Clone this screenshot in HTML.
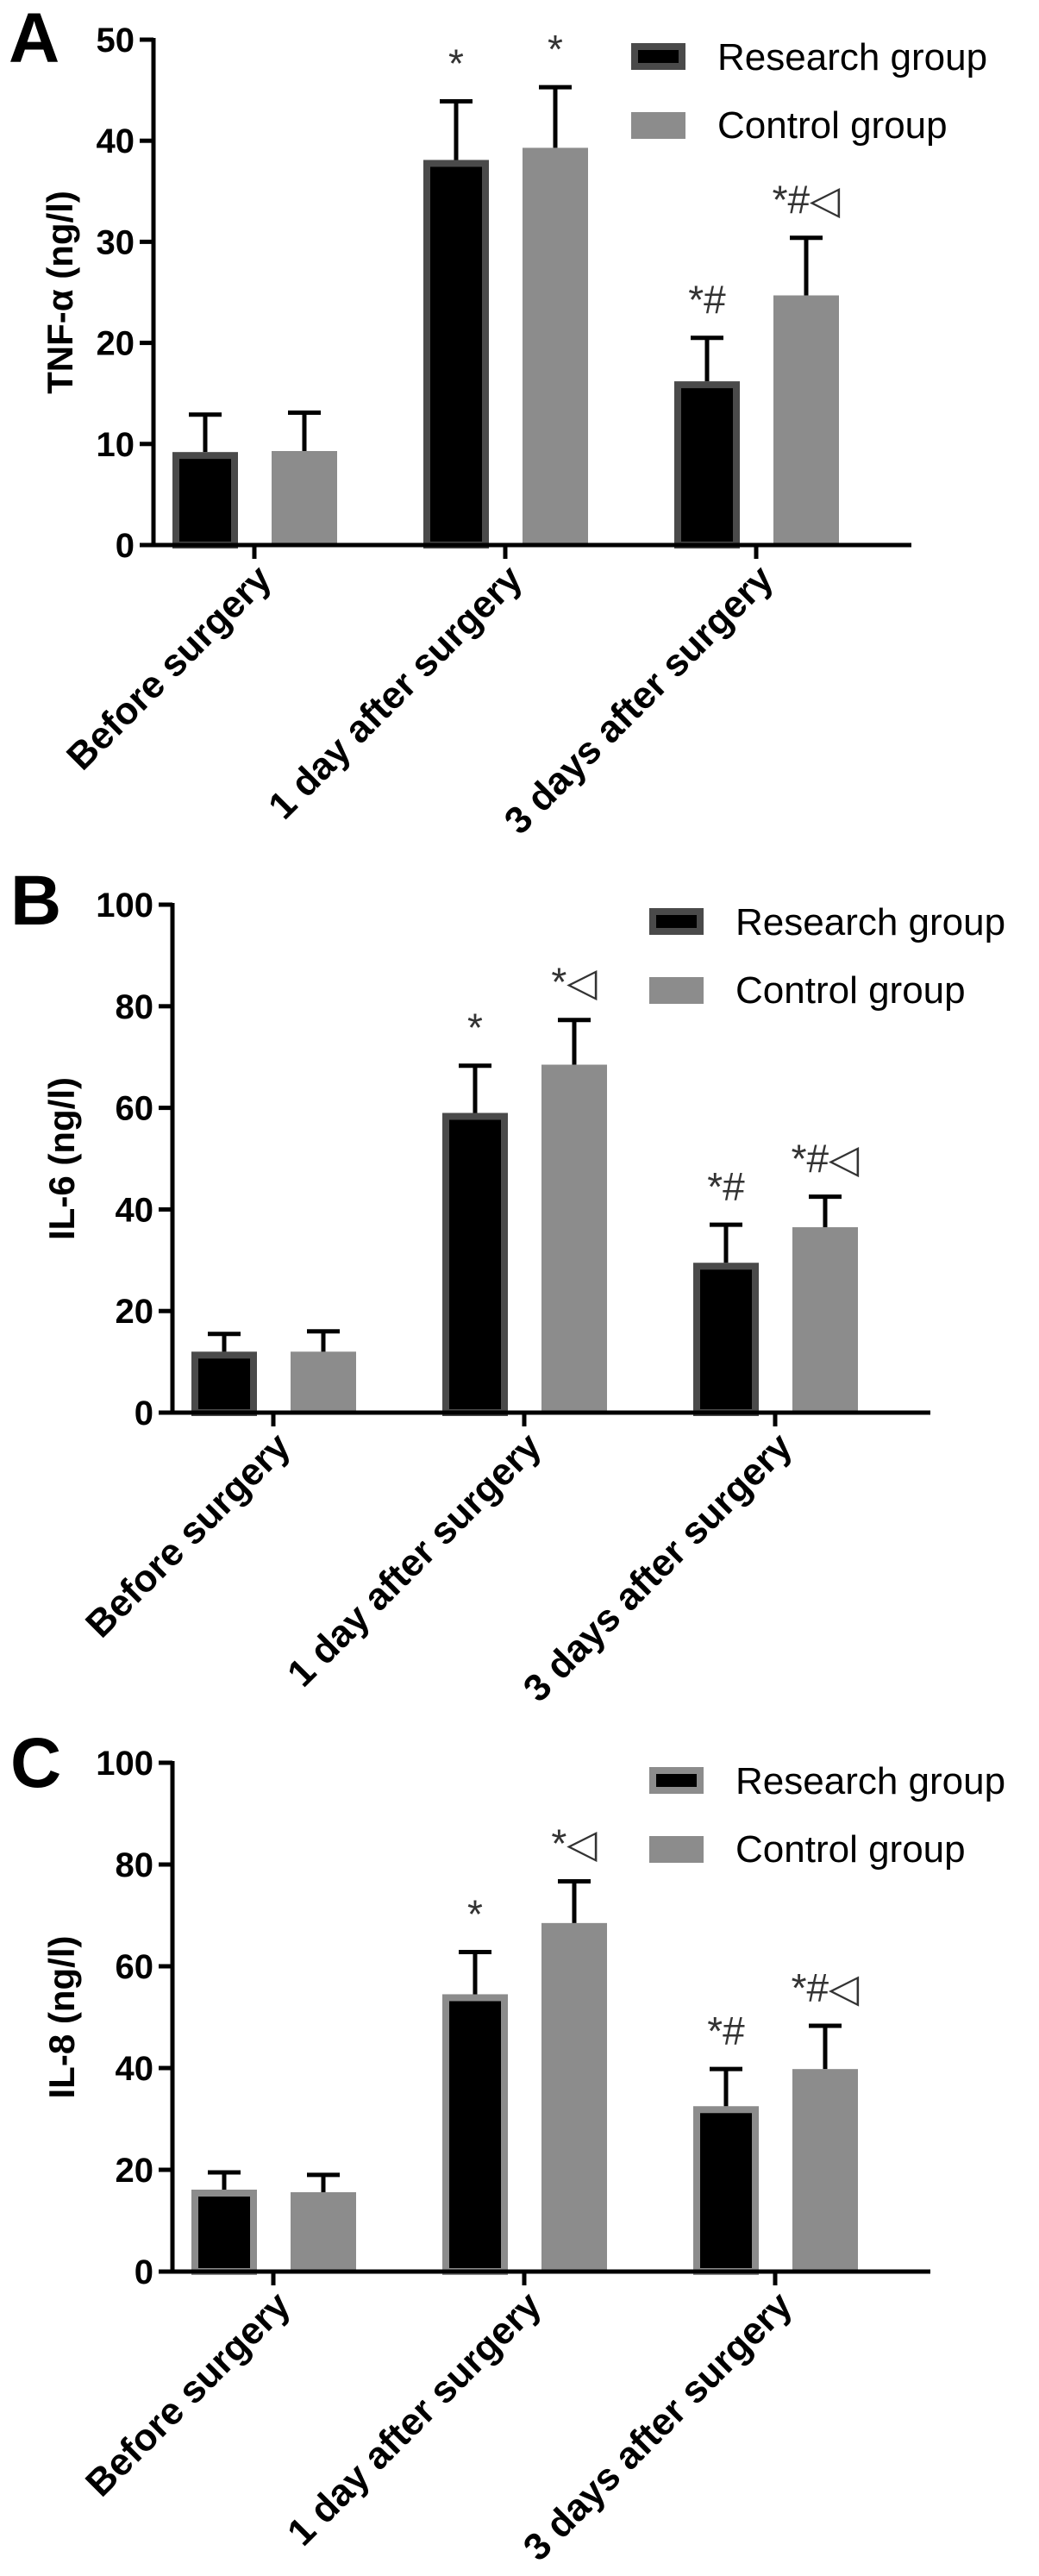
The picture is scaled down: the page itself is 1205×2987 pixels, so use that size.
<!DOCTYPE html>
<html><head><meta charset="utf-8">
<style>
html,body{margin:0;padding:0;background:#fff;}
svg{display:block;}
text{font-family:"Liberation Sans","DejaVu Sans",sans-serif;}
</style></head>
<body>
<svg id="fig" width="1205" height="2987" viewBox="0 0 1205 2987" xmlns="http://www.w3.org/2000/svg"></svg>
<script>
const categories = ["Before surgery", "1 day after surgery", "3 days after surgery"];
const seriesNames = ["Research group", "Control group"];

const tnfResearch = [9.2, 38.1, 16.2];
const tnfResearchErr = [12.9, 43.9, 20.5];
const tnfControl = [9.3, 39.3, 24.7];
const tnfControlErr = [13.1, 45.3, 30.4];
const tnfTicks = [0, 10, 20, 30, 40, 50];
const tnfMarksResearch = ["", "*", "*#"];
const tnfMarksControl = ["", "*", "*#◁"];

const il6Research = [12.0, 59.0, 29.5];
const il6ResearchErr = [15.5, 68.3, 37.0];
const il6Control = [12.0, 68.5, 36.5];
const il6ControlErr = [16.0, 77.3, 42.5];
const il6Ticks = [0, 20, 40, 60, 80, 100];
const il6MarksResearch = ["", "*", "*#"];
const il6MarksControl = ["", "*◁", "*#◁"];

const il8Research = [16.1, 54.5, 32.5];
const il8ResearchErr = [19.5, 62.8, 39.8];
const il8Control = [15.6, 68.5, 39.8];
const il8ControlErr = [19.0, 76.7, 48.3];
const il8Ticks = [0, 20, 40, 60, 80, 100];
const il8MarksResearch = ["", "*", "*#"];
const il8MarksControl = ["", "*◁", "*#◁"];

const NS = "http://www.w3.org/2000/svg";
const svg = document.getElementById("fig");
function mk(tag, attrs, parent, txt){
  const e = document.createElementNS(NS, tag);
  for (const k in attrs) e.setAttribute(k, attrs[k]);
  if (txt !== undefined) e.textContent = txt;
  (parent || svg).appendChild(e);
  return e;
}

function panel(cfg){
  const g = mk("g", {});
  
  
  const ax = cfg.axisX, y0 = cfg.y0, yTop = cfg.yTop, vmax = cfg.ticks[cfg.ticks.length-1];
  const yScale = v => y0 - (v / vmax) * (y0 - yTop);
  const tick0 = ax + 117, step = 291;
  const xCat = i => tick0 + i * step;
  const xEnd = xCat(2) + 180;

  const L = mk("text", {x: cfg.letterX, y: cfg.letterY, "font-size": 82, "font-weight": "bold", fill: "#000"}, g, cfg.letter);
  
  

  const ya = mk("line", {x1: ax, y1: yTop - 2, x2: ax, y2: y0 + 2, stroke: "#000", "stroke-width": 5}, g);
  
  
  cfg.ticks.forEach(t => {
    const y = yScale(t);
    const tl = mk("line", {x1: ax - 16, y1: y, x2: ax, y2: y, stroke: "#000", "stroke-width": 5}, g);
    
    
    const tt = mk("text", {x: ax - 22, y: y + 14, "text-anchor": "end", "font-size": 40, "font-weight": "bold"}, g, String(t));
    
    
  });
  const yt = mk("text", {x: 0, y: 0, "text-anchor": "middle", "font-size": 42, "font-weight": "bold",
    transform: `translate(${cfg.titleX},${(y0 + yTop) / 2}) rotate(-90)`}, g, cfg.title);
  
  

  categories.forEach((c, i) => {
    const xc = xCat(i);
    const bw = 76;
    const rx = xc - 95, cx = xc + 20;
    const ry = yScale(cfg.r[i]);
    const rb = mk("rect", {x: rx + 4, y: ry + 4, width: bw - 8, height: y0 - ry - 4, fill: "#000", stroke: cfg.rBorder, "stroke-width": 8}, g);
    
    
    const cy = yScale(cfg.c[i]);
    const cb = mk("rect", {x: cx, y: cy, width: bw, height: y0 - cy, fill: "#8c8c8c"}, g);
    
    
    [[rx + bw / 2, cfg.r[i], cfg.re[i], cfg.mr[i], 'research'], [cx + bw / 2, cfg.c[i], cfg.ce[i], cfg.mc[i], 'control']].forEach(([x, v, e, m, nm]) => {
      const yv = yScale(v), ye = yScale(e);
      const el = mk("path", {d: `M${x},${yv} L${x},${ye} M${x - 19},${ye} L${x + 19},${ye}`, stroke: "#000", "stroke-width": 5, fill: "none"}, g);
      
      
      if (m) {
        const mt = mk("text", {x: x, y: ye - 28, "text-anchor": "middle", "font-size": 46, fill: "#333"}, g, m);
        
        
      }
    });
    const ct = mk("line", {x1: xc, y1: y0, x2: xc, y2: y0 + 16, stroke: "#000", "stroke-width": 5}, g);
    
    
    const lx = xc + 22, ly = y0 + 42;
    const lt = mk("text", {x: 0, y: 0, "text-anchor": "end", "font-size": 44, "font-weight": "bold",
      transform: `translate(${lx},${ly}) rotate(-45)`}, g, c);
    
    
  });
  const xa = mk("line", {x1: ax - 16, y1: y0, x2: xEnd, y2: y0, stroke: "#000", "stroke-width": 5}, g);
  
  

  const lg = mk("g", {}, g);
  
  
  const l1 = mk("rect", {x: cfg.legX + 4, y: cfg.legY + 4, width: 55, height: 23, fill: "#000", stroke: cfg.rBorder, "stroke-width": 8}, lg);
  
  
  const t1 = mk("text", {x: cfg.legX + 100, y: cfg.legY + 31, "font-size": 44}, lg, seriesNames[0]);
  
  
  const l2 = mk("rect", {x: cfg.legX, y: cfg.legY + 80, width: 63, height: 31, fill: "#8c8c8c"}, lg);
  
  
  const t2 = mk("text", {x: cfg.legX + 100, y: cfg.legY + 110, "font-size": 44}, lg, seriesNames[1]);
  
  
}

panel({name: "panel-a-tnf", letter: "A", letterX: 10, letterY: 72, axisX: 178, y0: 632, yTop: 46,
  ticks: tnfTicks, title: "TNF-α (ng/l)", titleX: 84, rBorder: "#4a4a4a",
  r: tnfResearch, re: tnfResearchErr, c: tnfControl, ce: tnfControlErr, mr: tnfMarksResearch, mc: tnfMarksControl,
  legX: 732, legY: 50});
panel({name: "panel-b-il6", letter: "B", letterX: 12, letterY: 1072, axisX: 200, y0: 1638, yTop: 1049,
  ticks: il6Ticks, title: "IL-6 (ng/l)", titleX: 86, rBorder: "#4a4a4a",
  r: il6Research, re: il6ResearchErr, c: il6Control, ce: il6ControlErr, mr: il6MarksResearch, mc: il6MarksControl,
  legX: 753, legY: 1053});
panel({name: "panel-c-il8", letter: "C", letterX: 12, letterY: 2072, axisX: 200, y0: 2634, yTop: 2044,
  ticks: il8Ticks, title: "IL-8 (ng/l)", titleX: 86, rBorder: "#8c8c8c",
  r: il8Research, re: il8ResearchErr, c: il8Control, ce: il8ControlErr, mr: il8MarksResearch, mc: il8MarksControl,
  legX: 753, legY: 2049});
</script>
</body></html>
